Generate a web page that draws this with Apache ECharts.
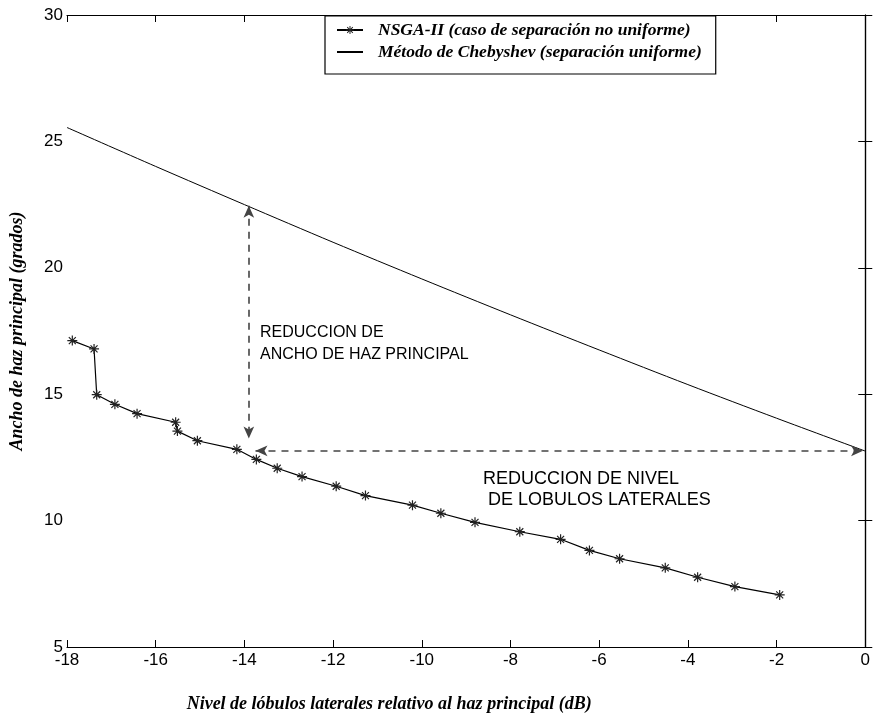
<!DOCTYPE html>
<html>
<head>
<meta charset="utf-8">
<script src="https://cdn.jsdelivr.net/npm/echarts@6/dist/echarts.min.js"></script>
<style>
  html, body { margin: 0; padding: 0; background: #fff; }
  #chart { width: 873px; height: 721px; }
</style>
</head>
<body>
<div id="chart"></div>
<script>
// Side-lobe level (dB) and main-beam width (degrees) for the NSGA-II designs
const nsgaSll = [-17.88, -17.39, -17.33, -16.92, -16.42, -15.55, -15.51, -15.06, -14.17, -13.73,
                 -13.26, -12.70, -11.93, -11.27, -10.21, -9.57, -8.80, -7.79, -6.87, -6.22,
                 -5.54, -4.51, -3.78, -2.94, -1.93];
const nsgaWidth = [17.12, 16.79, 14.98, 14.60, 14.23, 13.89, 13.54, 13.16, 12.82, 12.42,
                   12.07, 11.74, 11.36, 10.99, 10.61, 10.29, 9.93, 9.56, 9.26, 8.82,
                   8.49, 8.13, 7.76, 7.39, 7.06];

// Chebyshev (uniform spacing) reference curve
const chebSll = [-18, -16, -14, -12, -10, -8, -6, -4, -2, 0];
const chebWidth = [25.55, 24.01, 22.50, 21.01, 19.56, 18.14, 16.75, 15.38, 14.05, 12.75];

// Axis ticks
const xTicks = [-18, -16, -14, -12, -10, -8, -6, -4, -2, 0];
const yTicks = [5, 10, 15, 20, 25, 30];

// Annotation arrows (data units)
const arrowBeamReduction = [[-13.9, 22.45], [-13.9, 13.25]];
const arrowSllReduction = [[-13.75, 12.76], [-0.05, 12.76]];

const seriesNames = ['NSGA-II (caso de separación no uniforme)', 'Método de Chebyshev (separación uniforme)'];

// Eight-armed asterisk marker
const asterisk = 'path://M4.4 0L5.6 0L5.6 10L4.4 10Z M0 4.4L10 4.4L10 5.6L0 5.6Z ' +
  'M1.08 1.92L1.92 1.08L8.92 8.08L8.08 8.92Z M8.08 1.08L8.92 1.92L1.92 8.92L1.08 8.08Z';

const zip = (a, b) => a.map((v, i) => [v, b[i]]);

const sansFont = '"Liberation Sans", Arial, sans-serif';
const serifFont = '"Liberation Serif", "Times New Roman", serif';

const axisLine = { show: true, lineStyle: { color: '#000', width: 1.2 } };
const tickInside = { show: true, inside: true, length: 7, lineStyle: { color: '#000', width: 1 } };
const titleText = { fontFamily: serifFont, fontWeight: 'bold', fontStyle: 'italic', fontSize: 18, color: '#000' };

const chart = echarts.init(document.getElementById('chart'), null, { renderer: 'canvas' });

chart.setOption({
  backgroundColor: '#fff',
  animation: false,
  grid: { left: 67, right: 6, top: 15, bottom: 74, containLabel: false },
  legend: {
    orient: 'vertical',
    left: 325,
    top: 16,
    padding: [5, 14, 13, 11],
    itemGap: 4,
    itemWidth: 26,
    itemHeight: 10,
    backgroundColor: '#fff',
    borderColor: '#000',
    borderWidth: 1.2,
    borderRadius: 0,
    data: [
      { name: seriesNames[0] },
      { name: seriesNames[1], itemStyle: { opacity: 0 } }
    ],
    textStyle: { fontFamily: serifFont, fontWeight: 'bold', fontStyle: 'italic', fontSize: 17.5, color: '#000',
      padding: [0, 0, 0, 10] }
  },
  xAxis: [{
    type: 'value', min: -18, max: 0, interval: 2,
    axisLine, axisTick: tickInside, splitLine: { show: false },
    axisLabel: { color: '#000', fontFamily: sansFont, fontSize: 17, margin: 5,
      formatter: v => (xTicks.includes(v) ? String(v) : '') },
    name: 'Nivel de lóbulos laterales relativo al haz principal (dB)',
    nameLocation: 'middle', nameGap: 48,
    nameTextStyle: Object.assign({ padding: [0, 154, 0, 0] }, titleText)
  }, {
    type: 'value', min: -18, max: 0, interval: 2, position: 'top',
    axisLine, axisTick: tickInside, axisLabel: { show: false }, splitLine: { show: false }
  }],
  yAxis: [{
    type: 'value', min: 5, max: 30, interval: 5,
    axisLine, axisTick: tickInside, splitLine: { show: false },
    axisLabel: { color: '#000', fontFamily: sansFont, fontSize: 17, margin: 4,
      formatter: v => (yTicks.includes(v) ? String(v) : '') },
    name: 'Ancho de haz principal (grados)',
    nameLocation: 'middle', nameGap: 41,
    nameTextStyle: titleText
  }, {
    type: 'value', min: 5, max: 30, interval: 5, position: 'right',
    axisLine, axisTick: tickInside, axisLabel: { show: false }, splitLine: { show: false }
  }],
  series: [{
    name: seriesNames[0],
    type: 'line',
    data: zip(nsgaSll, nsgaWidth),
    symbol: asterisk,
    symbolSize: 10,
    showAllSymbol: true,
    lineStyle: { color: '#000', width: 1.2 },
    itemStyle: { color: '#222' },
    z: 3
  }, {
    name: seriesNames[1],
    type: 'line',
    data: zip(chebSll, chebWidth),
    smooth: 0.3,
    symbol: 'none',
    lineStyle: { color: '#000', width: 1 },
    itemStyle: { color: '#000' },
    markLine: {
      silent: true,
      symbol: ['arrow', 'arrow'],
      symbolSize: [8, 12],
      label: { show: false },
      lineStyle: { type: [7, 6], color: '#444', width: 1.6 },
      data: [
        [{ coord: arrowBeamReduction[0] }, { coord: arrowBeamReduction[1] }],
        [{ coord: arrowSllReduction[0] }, { coord: arrowSllReduction[1] }]
      ]
    }
  }],
  graphic: [{
    type: 'text', left: 260, top: 322,
    style: { text: 'REDUCCION DE\nANCHO DE HAZ PRINCIPAL', font: '16px ' + sansFont, fill: '#000', lineHeight: 22 }
  }, {
    type: 'text', left: 483, top: 469,
    style: { text: 'REDUCCION DE NIVEL\n DE LOBULOS LATERALES', font: '18px ' + sansFont, fill: '#000', lineHeight: 21 }
  }]
});
</script>
</body>
</html>
